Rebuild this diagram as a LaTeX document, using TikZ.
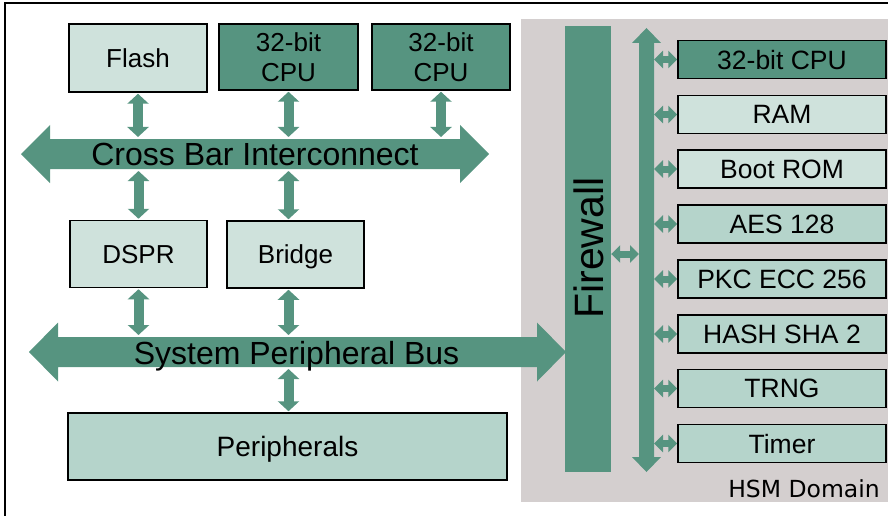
\documentclass[tikz,border=0pt]{standalone}
\usepackage{fontspec}
\setmainfont{Liberation Sans}
\newfontfamily\dejavu{DejaVu Sans}
\usetikzlibrary{arrows.meta,calc}
\definecolor{hsmgreen}{RGB}{86,148,128}
\definecolor{hsmlight}{RGB}{207,226,220}
\definecolor{hsmmid}{RGB}{181,212,203}
\definecolor{hsmgray}{RGB}{212,207,207}
% horizontal double block arrow: x1 x2 yc shaft-half head-half head-length
\newcommand\HBlockArrow[6]{%
  \fill[hsmgreen] (#1,#3) -- ({#1+#6},{#3-#5}) -- ({#1+#6},{#3-#4}) -- ({#2-#6},{#3-#4})
    -- ({#2-#6},{#3-#5}) -- (#2,#3) -- ({#2-#6},{#3+#5}) -- ({#2-#6},{#3+#4})
    -- ({#1+#6},{#3+#4}) -- ({#1+#6},{#3+#5}) -- cycle;}
% vertical double block arrow: xc y1 y2 shaft-half head-half head-length
\newcommand\VBlockArrow[6]{%
  \fill[hsmgreen] (#1,#2) -- ({#1+#5},{#2+#6}) -- ({#1+#4},{#2+#6}) -- ({#1+#4},{#3-#6})
    -- ({#1+#5},{#3-#6}) -- (#1,#3) -- ({#1-#5},{#3-#6}) -- ({#1-#4},{#3-#6})
    -- ({#1-#4},{#2+#6}) -- ({#1-#5},{#2+#6}) -- cycle;}
\tikzset{
  box/.style={draw=black, line width=1.5pt, inner sep=0pt, align=center,
    text depth=0pt, font=\fontsize{26}{30}\selectfont},
  lightbox/.style={box, fill=hsmlight},
  midbox/.style={box, fill=hsmmid},
  darkbox/.style={box, fill=hsmgreen},
  hsmbox/.style={minimum width=208pt, minimum height=38pt, font=\fontsize{26.5}{30}\selectfont},
  vconn/.style={draw=hsmgreen, line width=10pt,
    {Triangle[width=21pt,length=10pt]}-{Triangle[width=21pt,length=10pt]}},
  hconn/.style={draw=hsmgreen, line width=7pt,
    {Triangle[width=17pt,length=9pt]}-{Triangle[width=17pt,length=9pt]}},
}
\begin{document}
\begin{tikzpicture}[x=1pt,y=-1pt]
\clip (0,0) rectangle (888,516);
% outer frame
\draw[line width=1.5pt] (5,3) rectangle (895,530);
% HSM domain background
\fill[hsmgray] (521,19) rectangle (895,502);
\node[font=\dejavu\fontsize{23.5}{27}\selectfont, anchor=base east, inner sep=0pt] (hsmlabel) at (880,497) {HSM Domain};

% left side boxes
\node[lightbox, minimum width=138pt, minimum height=68pt] (flash) at (138,58) {Flash};
\node[darkbox, minimum width=139pt, minimum height=66pt] (cpuA) at (288.5,57) {32-bit\\CPU};
\node[darkbox, minimum width=138pt, minimum height=66pt] (cpuB) at (441,57) {32-bit\\CPU};
\node[lightbox, minimum width=137pt, minimum height=67pt] (dspr) at (138.5,254) {DSPR};
\node[lightbox, minimum width=137pt, minimum height=67pt] (bridge) at (295.5,254.5) {Bridge};
\node[midbox, minimum width=439pt, minimum height=67pt, font=\fontsize{28}{32}\selectfont] (periph) at (287.5,446.5) {Peripherals};

% Cross bar interconnect
\HBlockArrow{21}{489}{154}{15}{29}{29}
\node[anchor=base, inner sep=0pt, font=\fontsize{32}{36}\selectfont] (xbar) at (255,165) {Cross Bar Interconnect};
\coordinate (xbarT) at (255,137);
\coordinate (xbarB) at (255,171);

% System peripheral bus
\HBlockArrow{29}{566}{352}{15}{29.5}{29}
\node[anchor=base, inner sep=0pt, font=\fontsize{32}{36}\selectfont] (spb) at (296.5,364) {System Peripheral Bus};
\coordinate (spbT) at (297,335);
\coordinate (spbB) at (297,369);

% connectors left
\draw[vconn, shorten <=1pt] (flash.south) -- (flash.south |- xbarT);
\draw[vconn, shorten <=1pt] (cpuA.south) -- (cpuA.south |- xbarT);
\draw[vconn, shorten <=1pt] (cpuB.south) -- (cpuB.south |- xbarT);
\draw[vconn, shorten >=1pt] (dspr.north |- xbarB) -- (dspr.north);
\draw[vconn, shorten >=1pt] (cpuA.south |- xbarB) -- (cpuA.south |- bridge.north);
\draw[vconn, shorten <=1pt] (dspr.south) -- (dspr.south |- spbT);
\draw[vconn, shorten <=1pt] (cpuA.south |- bridge.south) -- (cpuA.south |- spbT);
\draw[vconn, shorten >=1pt] (cpuA.south |- spbB) -- (cpuA.south |- periph.north);

% Firewall
\node[fill=hsmgreen, minimum width=46pt, minimum height=446pt, inner sep=0pt] (fw) at (588,249) {};
\node[rotate=90, inner sep=0pt, font=\fontsize{41}{45}\selectfont] (fwtext) at (589,248) {Firewall};

% HSM internal bus
\VBlockArrow{646.5}{28}{472}{7.5}{14.5}{15}
\coordinate (hbusL) at (639,254);
\coordinate (hbusR) at (654,254);
\draw[hconn] (fw.east |- hbusL) -- (hbusL);

% HSM boxes
\node[darkbox, hsmbox] (hcpu) at (782,59.5) {32-bit CPU};
\node[lightbox, hsmbox] (ram) at (782,114.5) {RAM};
\node[lightbox, hsmbox] (brom) at (782,169) {Boot ROM};
\node[midbox, hsmbox] (aes) at (782,224) {AES 128};
\node[midbox, hsmbox] (pkc) at (782,279) {PKC ECC 256};
\node[midbox, hsmbox] (hash) at (782,334) {HASH SHA 2};
\node[midbox, hsmbox] (trng) at (782,388.5) {TRNG};
\node[midbox, hsmbox] (timer) at (782,443.5) {Timer};
\foreach \b in {hcpu,ram,brom,aes,pkc,hash,trng,timer}
  \draw[hconn] (hbusR |- \b.west) -- (\b.west);
\end{tikzpicture}
\end{document}
